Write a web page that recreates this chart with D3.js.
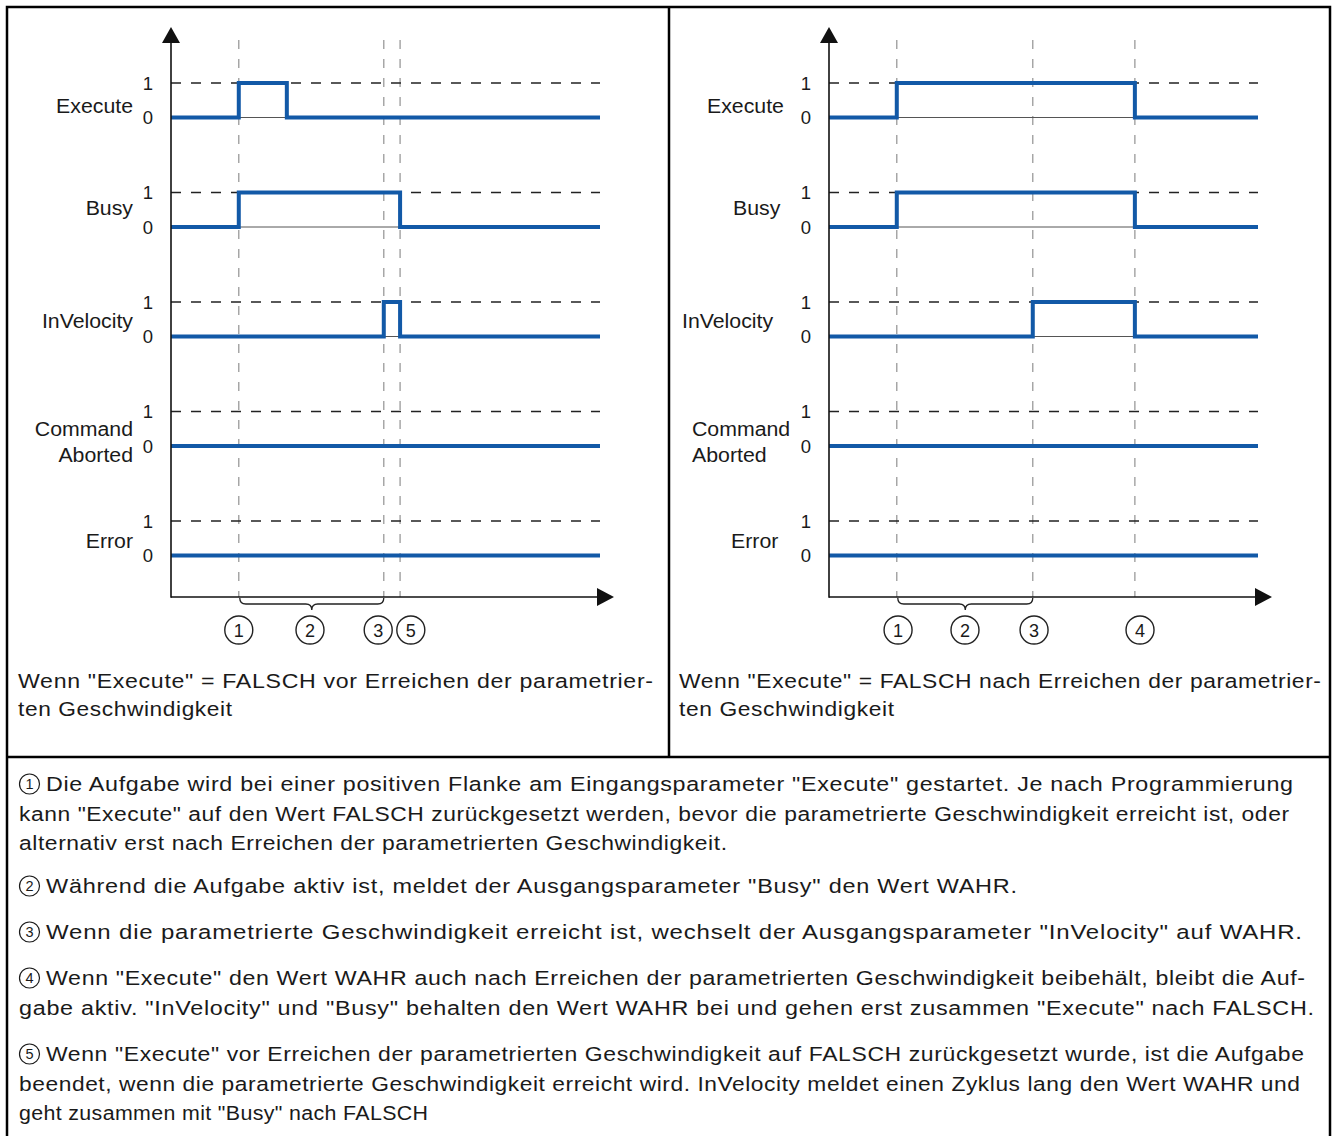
<!DOCTYPE html>
<html><head><meta charset="utf-8">
<script src="https://cdn.jsdelivr.net/npm/d3@7"></script>
<style>html,body{margin:0;padding:0;background:#fff;} svg{display:block;}</style>
</head><body>
<script>
// ---------- data ----------
const signalLabels = [["Execute"], ["Busy"], ["InVelocity"], ["Command", "Aborted"], ["Error"]];
const tickLabels = ["0", "1"];
const timeDomain = [0, 100];

// step change points [time, value]
const leftExecute = [[0, 0], [15.8, 1], [27, 0]];
const leftBusy = [[0, 0], [15.8, 1], [53.4, 0]];
const leftInVelocity = [[0, 0], [49.6, 1], [53.4, 0]];
const leftCommandAborted = [[0, 0]];
const leftError = [[0, 0]];

const rightExecute = [[0, 0], [15.8, 1], [71.3, 0]];
const rightBusy = [[0, 0], [15.8, 1], [71.3, 0]];
const rightInVelocity = [[0, 0], [47.5, 1], [71.3, 0]];
const rightCommandAborted = [[0, 0]];
const rightError = [[0, 0]];

const leftEventTimes = [15.8, 49.6, 53.4];
const rightEventTimes = [15.8, 47.5, 71.3];
const leftMarkers = [["1", 15.8], ["2", 32.4], ["3", 48.3], ["5", 55.9]];
const rightMarkers = [["1", 16.1], ["2", 31.7], ["3", 47.8], ["4", 72.5]];
const leftBrace = [15.8, 49.6];
const rightBrace = [15.8, 47.5];

const leftCaption = ["Wenn \"Execute\" = FALSCH vor Erreichen der parametrier-", "ten Geschwindigkeit"];
const rightCaption = ["Wenn \"Execute\" = FALSCH nach Erreichen der parametrier-", "ten Geschwindigkeit"];

const noteNumbers = ["1", "2", "3", "4", "5"];
const notes = [
  ["Die Aufgabe wird bei einer positiven Flanke am Eingangsparameter \"Execute\" gestartet. Je nach Programmierung",
   "kann \"Execute\" auf den Wert FALSCH zurückgesetzt werden, bevor die parametrierte Geschwindigkeit erreicht ist, oder",
   "alternativ erst nach Erreichen der parametrierten Geschwindigkeit."],
  ["Während die Aufgabe aktiv ist, meldet der Ausgangsparameter \"Busy\" den Wert WAHR."],
  ["Wenn die parametrierte Geschwindigkeit erreicht ist, wechselt der Ausgangsparameter \"InVelocity\" auf WAHR."],
  ["Wenn \"Execute\" den Wert WAHR auch nach Erreichen der parametrierten Geschwindigkeit beibehält, bleibt die Auf-",
   "gabe aktiv. \"InVelocity\" und \"Busy\" behalten den Wert WAHR bei und gehen erst zusammen \"Execute\" nach FALSCH."],
  ["Wenn \"Execute\" vor Erreichen der parametrierten Geschwindigkeit auf FALSCH zurückgesetzt wurde, ist die Aufgabe",
   "beendet, wenn die parametrierte Geschwindigkeit erreicht wird. InVelocity meldet einen Zyklus lang den Wert WAHR und",
   "geht zusammen mit \"Busy\" nach FALSCH"]
];

// ---------- layout ----------
const W = 1336, H = 1136;
const FONT = "'Liberation Sans', Arial, Helvetica, sans-serif";
const BLUE = "#1259a7";
const TXT = "#1a1a1a";
// right-hand end (px) of each note line, as seen in the reference
const noteLineEnds = [[1293, 1289, 727], [1017], [1302], [1305, 1314], [1304, 1300, 428]];
const captionEnds = [[653, 232], [1321, 894]];

const svg = d3.select("body").append("svg").attr("width", W).attr("height", H)
  .style("font-family", FONT);

function measure(str, size) {
  const t = svg.append("text").attr("font-size", size).text(str);
  const w = t.node().getComputedTextLength();
  t.remove();
  return w;
}
const LABEL_SIZE = 19.5;
const labelStretch = 77 / measure("Execute", LABEL_SIZE);
const TEXT_SIZE = 19.5;

function stext(g, x, y, str, size, stretch, anchor) {
  return g.append("text")
    .attr("transform", `translate(${x},${y}) scale(${stretch},1)`)
    .attr("text-anchor", anchor || "start")
    .attr("font-size", size)
    .attr("fill", TXT)
    .text(str);
}
// text fitted between x0 and x1: mostly glyph scaling, a little spacing
function ftext(g, x0, x1, y, str, size) {
  const nat = measure(str, size);
  const target = x1 - x0;
  const s = Math.pow(target / nat, 0.75);
  return g.append("text")
    .attr("transform", `translate(${x0},${y}) scale(${s},1)`)
    .attr("font-size", size)
    .attr("fill", TXT)
    .attr("textLength", target / s)
    .attr("lengthAdjust", "spacing")
    .text(str);
}

const rowBase = d3.scaleLinear().domain([0, 4]).range([117.5, 555.5]);
const valOffset = d3.scaleLinear().domain([0, 1]).range([0, -34.5]);
const labelBaselines = [[113], [215], [328], [436, 462], [548]];

function panel(ox, signals, events, markers, brace, labelMode, caption, capX, capEnd) {
  const g = svg.append("g").attr("transform", `translate(${ox},0)`);
  const axisX = 171, axisY = 597;
  const x = d3.scaleLinear().domain(timeDomain).range([axisX, 600]);

  g.selectAll("line.ev").data(events).enter().append("line")
    .attr("x1", d => x(d)).attr("x2", d => x(d))
    .attr("y1", 40).attr("y2", axisY)
    .attr("stroke", "#9a9a9a").attr("stroke-width", 1.3)
    .attr("stroke-dasharray", "9,10");

  signals.forEach((sig, i) => {
    const base = rowBase(i);
    g.append("line").attr("x1", axisX).attr("x2", x(100))
      .attr("y1", base + valOffset(1)).attr("y2", base + valOffset(1))
      .attr("stroke", "#222").attr("stroke-width", 1.3).attr("stroke-dasharray", "10,10");
    const pts = sig.concat([[100, sig[sig.length - 1][1]]]);
    for (let k = 0; k < pts.length - 1; k++) {
      if (pts[k][1] === 1) {
        g.append("line").attr("x1", x(pts[k][0])).attr("x2", x(pts[k + 1][0]))
          .attr("y1", base).attr("y2", base)
          .attr("stroke", "#555").attr("stroke-width", 1);
      }
    }
    const line = d3.line().curve(d3.curveStepAfter)
      .x(d => x(d[0])).y(d => base + valOffset(d[1]));
    g.append("path").attr("d", line(pts))
      .attr("fill", "none").attr("stroke", BLUE).attr("stroke-width", 4)
      .attr("stroke-linejoin", "miter");
    tickLabels.forEach((tl, v) => {
      stext(g, 148, base + valOffset(v) + 6.5, tl, 18.5, 1, "middle");
    });
    signalLabels[i].forEach((s, j) => {
      const yb = labelBaselines[i][j];
      if (labelMode === "right") {
        stext(g, 133, yb, s, LABEL_SIZE, labelStretch, "end");
      } else {
        stext(g, labelMode[i][j], yb, s, LABEL_SIZE, labelStretch, "start");
      }
    });
  });

  g.append("line").attr("x1", axisX).attr("x2", axisX).attr("y1", 40).attr("y2", axisY + 0.75)
    .attr("stroke", "#111").attr("stroke-width", 1.6);
  g.append("path").attr("d", `M${axisX},27 L${axisX - 9},43 L${axisX + 9},43 Z`).attr("fill", "#111");
  g.append("line").attr("x1", axisX).attr("x2", 600).attr("y1", axisY).attr("y2", axisY)
    .attr("stroke", "#111").attr("stroke-width", 1.6);
  g.append("path").attr("d", `M614,${axisY} L597,${axisY - 9} L597,${axisY + 9} Z`).attr("fill", "#111");

  const b0 = x(brace[0]) + 1, b1 = x(brace[1]), bm = (b0 + b1) / 2;
  const yT = 598, yM = 604, yTip = 610;
  g.append("path")
    .attr("d", `M${b0},${yT} Q${b0},${yM} ${b0 + 6},${yM} L${bm - 6},${yM} Q${bm},${yM} ${bm},${yTip} Q${bm},${yM} ${bm + 6},${yM} L${b1 - 6},${yM} Q${b1},${yM} ${b1},${yT}`)
    .attr("fill", "none").attr("stroke", "#222").attr("stroke-width", 1.3);

  markers.forEach(([n, t]) => {
    g.append("circle").attr("cx", x(t)).attr("cy", 630).attr("r", 14)
      .attr("fill", "none").attr("stroke", "#222").attr("stroke-width", 1.4);
    stext(g, x(t), 637, n, 19, 0.95, "middle");
  });

  caption.forEach((s, j) => {
    ftext(g, capX - ox, capEnd[j] - ox, 688 + j * 28, s, TEXT_SIZE);
  });
}

panel(0, [leftExecute, leftBusy, leftInVelocity, leftCommandAborted, leftError],
  leftEventTimes, leftMarkers, leftBrace, "right", leftCaption, 18, captionEnds[0]);

const rightLabelX = [[707 - 658], [733 - 658], [682 - 658], [692 - 658, 692 - 658], [731 - 658]];
panel(658, [rightExecute, rightBusy, rightInVelocity, rightCommandAborted, rightError],
  rightEventTimes, rightMarkers, rightBrace, rightLabelX, rightCaption, 679, captionEnds[1]);

const frame = svg.append("g").attr("fill", "none").attr("stroke", "#000").attr("stroke-width", 2.5);
frame.append("path").attr("d", `M7,${H + 5} L7,7 L1330,7 L1330,${H + 5}`);
frame.append("line").attr("x1", 669).attr("x2", 669).attr("y1", 7).attr("y2", 757);
frame.append("line").attr("x1", 7).attr("x2", 1330).attr("y1", 757).attr("y2", 757);

const noteTop = [791, 893, 939, 985, 1061];
const notesG = svg.append("g");
notes.forEach((para, i) => {
  const y0 = noteTop[i];
  notesG.append("circle").attr("cx", 29.5).attr("cy", y0 - 7).attr("r", 10)
    .attr("fill", "none").attr("stroke", TXT).attr("stroke-width", 1.2);
  stext(notesG, 29.5, y0 - 1.8, noteNumbers[i], 14.5, 1, "middle");
  para.forEach((s, j) => {
    const xs = j === 0 ? 46 : 19;
    ftext(notesG, xs, noteLineEnds[i][j], y0 + j * 29.5, s, TEXT_SIZE);
  });
});
</script>
</body></html>
